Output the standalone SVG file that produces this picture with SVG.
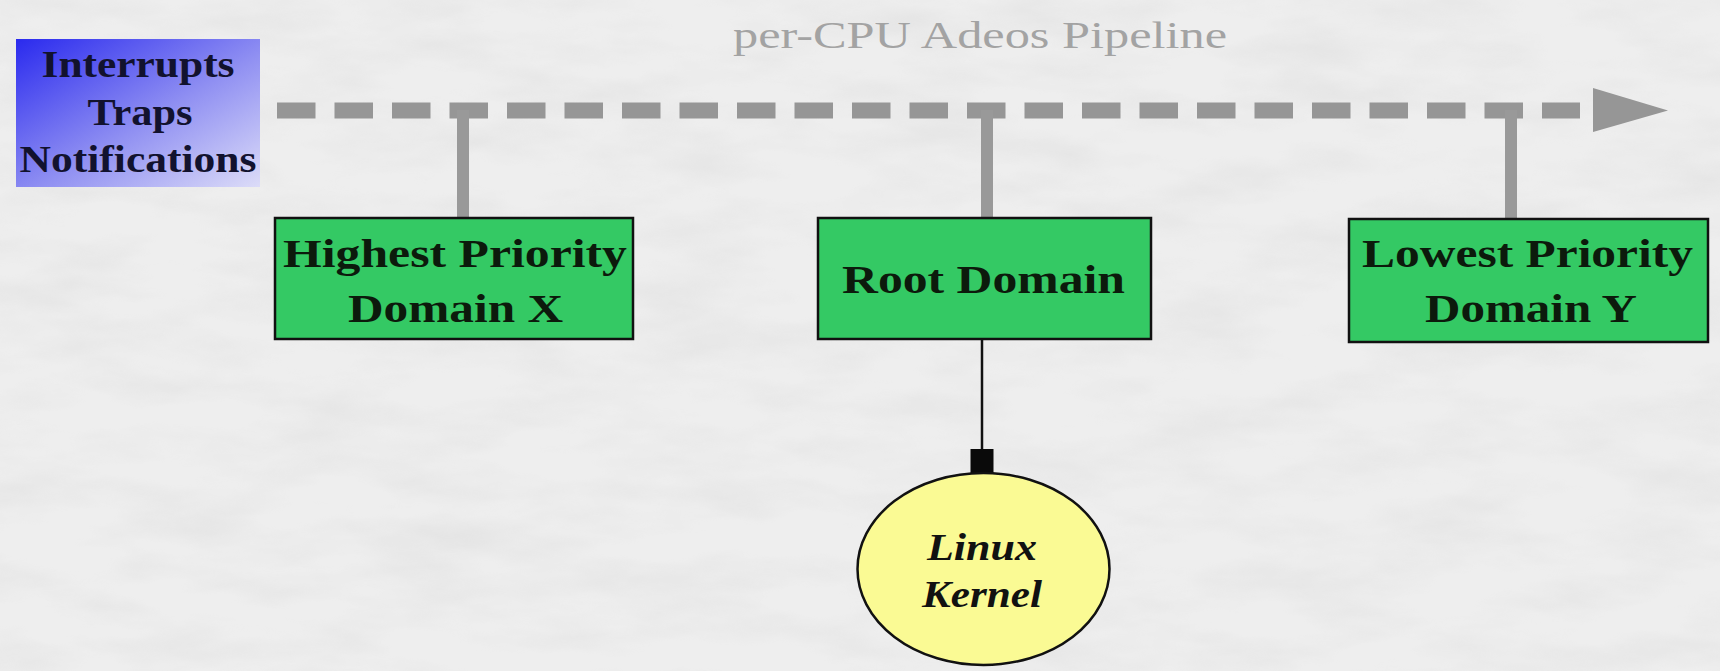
<svg xmlns="http://www.w3.org/2000/svg" width="1720" height="671" viewBox="0 0 1720 671">
<defs>
<linearGradient id="blueGrad" x1="0" y1="0" x2="1" y2="1">
<stop offset="0" stop-color="#2a2aee"/>
<stop offset="0.55" stop-color="#9090f2"/>
<stop offset="1" stop-color="#dcdcf8"/>
</linearGradient>
<filter id="tex" x="0" y="0" width="100%" height="100%">
<feTurbulence type="fractalNoise" baseFrequency="0.008 0.025" numOctaves="4" seed="7"/>
<feColorMatrix type="matrix" values="0 0 0 0 0.6  0 0 0 0 0.6  0 0 0 0 0.6  1.4 0 0 0 -0.55"/>
</filter>
<style>
.gbox{fill:#34c964;stroke:#111;stroke-width:2.5}
.gtxt{font-family:"Liberation Serif",serif;font-weight:bold;font-size:40px;fill:#0c1a0c;text-anchor:middle}
.btxt{font-family:"Liberation Serif",serif;font-weight:bold;font-size:37px;fill:#12122e;text-anchor:middle}
.pipe{stroke:#969696;stroke-width:16;fill:none}
.tap{stroke:#999999;stroke-width:12;fill:none}
</style>
</defs>
<rect x="0" y="0" width="1720" height="671" fill="#eeeeee"/>
<rect x="0" y="0" width="1720" height="671" filter="url(#tex)" opacity="0.35"/>

<text id="title" x="980" y="48" font-family="Liberation Serif, serif" font-size="38" fill="#a3a3a3" text-anchor="middle" textLength="494" lengthAdjust="spacingAndGlyphs">per-CPU Adeos Pipeline</text>

<g id="connectors">
<line class="pipe" x1="277" y1="110.5" x2="1580" y2="110.5" stroke-dasharray="38.5 19"/>
<polygon points="1593,88 1668,110.5 1593,132" fill="#969696"/>
<line class="tap" x1="463" y1="110" x2="463" y2="218"/>
<line class="tap" x1="987" y1="110" x2="987" y2="218"/>
<line class="tap" x1="1511" y1="110" x2="1511" y2="218"/>
<line x1="982" y1="339" x2="982" y2="452" stroke="#111" stroke-width="2.5"/>
<rect x="970.5" y="449" width="23" height="25" fill="#0a0a0a"/>
</g>

<g id="sources">
<rect x="16" y="39" width="244" height="148" fill="url(#blueGrad)"/>
<text class="btxt" x="138" y="77" textLength="193" lengthAdjust="spacingAndGlyphs">Interrupts</text>
<text class="btxt" x="140" y="125" textLength="105" lengthAdjust="spacingAndGlyphs">Traps</text>
<text class="btxt" x="138" y="172" textLength="237" lengthAdjust="spacingAndGlyphs">Notifications</text>
</g>

<g id="highest">
<rect class="gbox" x="275" y="218" width="358" height="121"/>
<text class="gtxt" x="455" y="267" textLength="344" lengthAdjust="spacingAndGlyphs">Highest Priority</text>
<text class="gtxt" x="455.5" y="322" textLength="215" lengthAdjust="spacingAndGlyphs">Domain X</text>
</g>

<g id="root">
<rect class="gbox" x="818" y="218" width="333" height="121"/>
<text class="gtxt" x="983.5" y="293" textLength="283" lengthAdjust="spacingAndGlyphs">Root Domain</text>
</g>

<g id="lowest">
<rect class="gbox" x="1349" y="219" width="359" height="123"/>
<text class="gtxt" x="1527.5" y="267" textLength="331" lengthAdjust="spacingAndGlyphs">Lowest Priority</text>
<text class="gtxt" x="1531" y="322" textLength="212" lengthAdjust="spacingAndGlyphs">Domain Y</text>
</g>

<g id="linux">
<ellipse cx="983.5" cy="569" rx="126" ry="96" fill="#fafa94" stroke="#111" stroke-width="2.5"/>
<text x="982" y="560" font-family="Liberation Serif, serif" font-weight="bold" font-style="italic" font-size="37" fill="#111" text-anchor="middle" textLength="110" lengthAdjust="spacingAndGlyphs">Linux</text>
<text x="982" y="607" font-family="Liberation Serif, serif" font-weight="bold" font-style="italic" font-size="37" fill="#111" text-anchor="middle" textLength="120" lengthAdjust="spacingAndGlyphs">Kernel</text>
</g>
</svg>
